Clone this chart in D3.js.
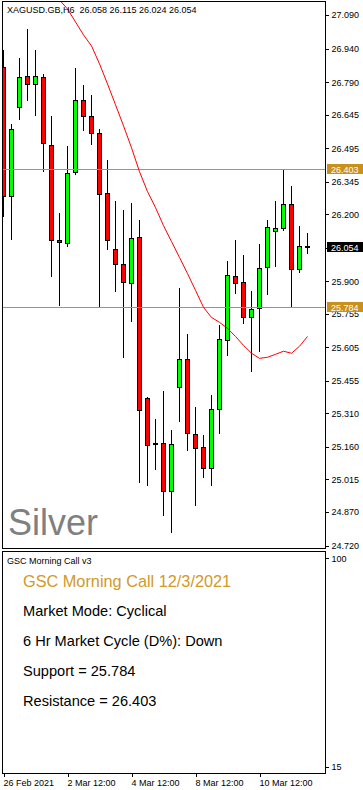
<!DOCTYPE html>
<html><head><meta charset="utf-8">
<script src="https://cdn.jsdelivr.net/npm/d3@7"></script>
<style>html,body{margin:0;padding:0;background:#fff;overflow:hidden}svg{display:block;font-family:"Liberation Sans",Arial,sans-serif}</style>
</head><body><svg id="c" width="363" height="790"></svg>
<script>
// ---------- DATA ----------
const symbol = "XAGUSD.GB,H6";
const lastBar = [26.058, 26.115, 26.024, 26.054];
const opens  = [26.857,26.280,26.677,26.817,26.781,26.812,26.509,26.087,26.072,26.389,26.710,26.638,26.563,26.295,26.045,25.979,25.894,26.099,25.381,25.176,25.176,24.962,25.426,25.551,25.216,25.158,25.065,25.328,25.640,25.925,25.898,25.742,25.782,25.965,26.126,26.139,26.246,25.956,26.058];
const highs  = [26.934,26.604,26.897,27.028,26.934,26.827,26.640,26.207,26.503,26.852,26.778,26.733,26.582,26.444,26.258,26.221,26.250,26.172,25.382,25.284,25.409,25.235,25.872,25.663,25.337,25.213,25.391,25.704,25.989,26.087,26.019,25.855,26.069,26.172,26.261,26.403,26.328,26.149,26.115];
const lows   = [26.189,26.087,26.619,26.708,26.640,26.387,25.919,25.790,26.053,26.374,26.573,26.510,25.784,26.042,25.852,25.558,25.718,24.999,24.987,25.058,24.853,24.775,25.272,25.143,24.898,25.020,24.984,25.218,25.567,25.843,25.709,25.495,25.584,25.837,25.963,26.126,25.786,25.937,26.024];
const closes = [26.280,26.580,26.812,26.781,26.817,26.518,26.084,26.077,26.384,26.710,26.637,26.563,26.291,26.084,25.979,25.898,26.094,25.326,25.170,25.174,24.962,25.172,25.551,25.221,25.154,25.065,25.328,25.644,25.930,25.894,25.742,25.778,25.961,26.144,26.137,26.246,25.956,26.059,26.054];
const maValues = [null,null,null,null,null,null,27.200,27.157,27.117,27.059,27.001,26.952,26.872,26.782,26.689,26.595,26.497,26.390,26.301,26.230,26.149,26.078,26.007,25.935,25.860,25.784,25.739,25.717,25.690,25.654,25.614,25.579,25.556,25.561,25.574,25.588,25.579,25.610,25.654];
const priceTicks = [27.090,26.940,26.790,26.645,26.495,26.345,26.200,26.050,25.900,25.755,25.605,25.455,25.310,25.160,25.015,24.870,24.720];
const timeTickIndex = [0,8,16,24,32];
const timeTickLabels = ["26 Feb 2021","2 Mar 12:00","4 Mar 12:00","8 Mar 12:00","10 Mar 12:00"];
const support = 25.784, resistance = 26.403, currentPrice = 26.054;
const indicatorName = "GSC Morning Call v3";
const indicatorTitle = "GSC Morning Call 12/3/2021";
const indicatorLines = ["Market Mode: Cyclical","6 Hr Market Cycle (D%): Down","Support = 25.784","Resistance = 26.403"];
const indicatorTicks = [100, 15];
const instrumentName = "Silver";

// ---------- LAYOUT ----------
const GOLD = "#c8901c", GOLDTXT = "#d19a26";
const svg = d3.select("#c");
const P = {l:2.5, r:325.5, t:1.5, b:548.5};
const I = {t:551.5, b:773.5};
const x = d3.scaleLinear().domain([0, opens.length-1]).range([3.5, 3.5 + 8*(opens.length-1)]);
const y = d3.scaleLinear().domain([24.720, 27.090]).range([545.5, 15]);
const yi = d3.scaleLinear().domain([15, 100]).range([766.7, 558.3]);

const defs = svg.append("defs");
defs.append("clipPath").attr("id","plotClip").append("rect").attr("x",3).attr("y",2).attr("width",322).attr("height",546);
defs.append("clipPath").attr("id","axClip").append("rect").attr("x",326).attr("y",0).attr("width",40).attr("height",551);

// Silver watermark
svg.append("text").attr("x",8).attr("y",535).attr("font-size",36).attr("fill","#808080").text(instrumentName);

const g = svg.append("g").attr("clip-path","url(#plotClip)");
const bars = d3.range(opens.length).map(i => ({i, o:opens[i], h:highs[i], l:lows[i], c:closes[i]}));

// wicks
g.selectAll("line.wick").data(bars).join("line")
  .attr("x1", d => x(d.i)).attr("x2", d => x(d.i))
  .attr("y1", d => Math.round(y(d.h))).attr("y2", d => Math.round(y(d.l)))
  .attr("stroke","#000").attr("stroke-width",1).attr("shape-rendering","crispEdges");

// bodies
bars.forEach(d => {
  const y1 = Math.round(y(Math.max(d.o,d.c))) + 0.5;
  const y2 = Math.round(y(Math.min(d.o,d.c))) + 0.5;
  if (y2 - y1 < 1) {
    g.append("line").attr("x1", x(d.i)-2.5).attr("x2", x(d.i)+2.5).attr("y1", y1).attr("y2", y1)
      .attr("stroke","#000").attr("shape-rendering","crispEdges");
  } else {
    g.append("rect").attr("x", x(d.i)-2).attr("width",4).attr("y", y1).attr("height", y2-y1)
      .attr("fill", d.c >= d.o ? "#00ff00" : "#ff0000").attr("stroke","#000").attr("stroke-width",1)
      .attr("shape-rendering","crispEdges");
  }
});

// support / resistance
[support, resistance].forEach(v => {
  g.append("line").attr("x1",3).attr("x2",325).attr("y1",Math.round(y(v))+0.5).attr("y2",Math.round(y(v))+0.5)
    .attr("stroke",GOLD).attr("stroke-width",1).attr("shape-rendering","crispEdges");
});

// MA
const line = d3.line().defined(d => d != null).x((d,i) => x(i)).y(d => y(d));
g.append("path").datum(maValues).attr("d", line).attr("fill","none").attr("stroke","#ff0000").attr("stroke-width",1);

// frames
svg.append("rect").attr("x",P.l).attr("y",P.t).attr("width",P.r-P.l).attr("height",P.b-P.t)
  .attr("fill","none").attr("stroke","#000").attr("shape-rendering","crispEdges");
svg.append("rect").attr("x",P.l).attr("y",I.t).attr("width",P.r-P.l).attr("height",I.b-I.t)
  .attr("fill","none").attr("stroke","#000").attr("shape-rendering","crispEdges");

// header
svg.append("text").attr("x",7).attr("y",13).attr("font-size",9).attr("fill","#000")
  .style("white-space","pre").text(symbol + "  " + lastBar.map(v => v.toFixed(3)).join(" "));

// price axis
const ax = svg.append("g").attr("clip-path","url(#axClip)");
const yAxis = d3.axisRight(y).tickValues(priceTicks).tickSize(3).tickPadding(3).tickFormat(d3.format(".3f"));
const axG = ax.append("g").attr("transform",`translate(${P.r},0)`).call(yAxis);
axG.select(".domain").remove();
axG.selectAll(".tick line").attr("stroke","#000").attr("shape-rendering","crispEdges");
axG.selectAll(".tick text").attr("font-size",9).attr("font-family","Liberation Sans, Arial").attr("fill","#000");

// price labels
function priceBox(v, fill) {
  const cy = y(v);
  svg.append("rect").attr("x",327).attr("y",Math.round(cy)-5).attr("width",36).attr("height",10).attr("fill",fill);
  svg.append("text").attr("x",331).attr("y",Math.round(cy)+3.5).attr("font-size",9).attr("fill","#fff").text(v.toFixed(3));
}
priceBox(resistance, GOLD);
priceBox(support, GOLD);
priceBox(currentPrice, "#000");

// indicator axis
const iAxis = d3.axisRight(yi).tickValues(indicatorTicks).tickSize(3).tickPadding(3);
const iG = svg.append("g").attr("transform",`translate(${P.r},0)`).call(iAxis);
iG.select(".domain").remove();
iG.selectAll(".tick line").attr("stroke","#000").attr("shape-rendering","crispEdges");
iG.selectAll(".tick text").attr("font-size",9).attr("font-family","Liberation Sans, Arial").attr("fill","#000");

// indicator text
svg.append("text").attr("x",7).attr("y",564).attr("font-size",9).attr("fill","#000").text(indicatorName);
svg.append("text").attr("x",23).attr("y",586.5).attr("font-size",16.3).attr("fill",GOLDTXT).text(indicatorTitle);
svg.selectAll("text.il").data(indicatorLines).join("text").attr("class","il")
  .attr("x",23).attr("y",(d,i) => 616 + 30*i).attr("font-size",14.6).attr("fill","#000").text(d => d);

// time axis
const xAxis = d3.axisBottom(x).tickValues(timeTickIndex).tickSize(3).tickPadding(3)
  .tickFormat((d,i) => timeTickLabels[i]);
const xG = svg.append("g").attr("transform",`translate(0,${I.b})`).call(xAxis);
xG.select(".domain").remove();
xG.selectAll(".tick line").attr("stroke","#000").attr("shape-rendering","crispEdges");
xG.selectAll(".tick text").attr("font-size",9).attr("font-family","Liberation Sans, Arial").attr("fill","#000")
  .attr("text-anchor","start").attr("dx",-0.5);
</script></body></html>
